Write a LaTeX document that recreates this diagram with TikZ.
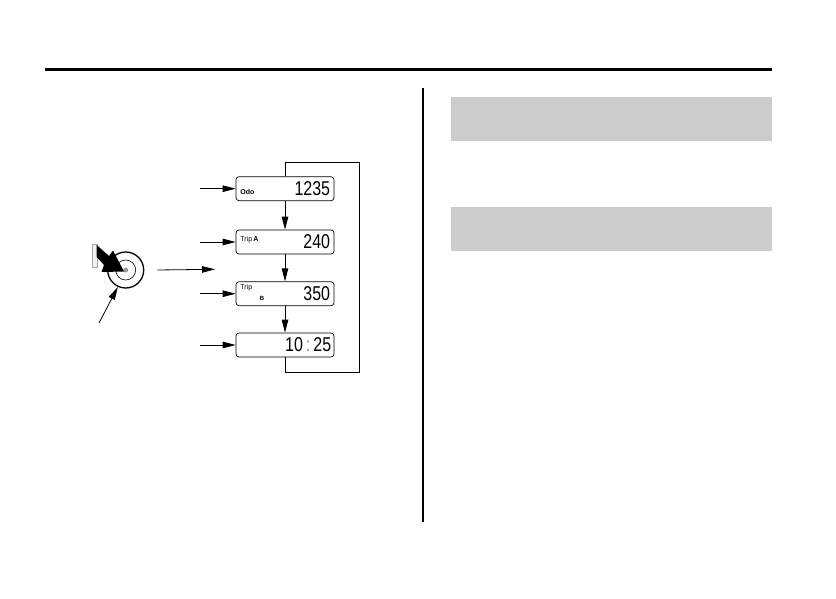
\documentclass[tikz,border=0pt]{standalone}
\usepackage{fontspec}
\setmainfont{Liberation Sans}
\newfontfamily\segfont{Liberation Sans}[FakeStretch=0.8]
\usetikzlibrary{arrows.meta}
\tikzset{
  lcd/.style={draw, rounded corners=3pt, minimum width=98pt, minimum height=24pt, line width=0.7pt},
  digits/.style={font=\segfont\fontsize{20}{20}\selectfont, inner sep=0pt, anchor=east},
  lcdtag/.style={font=\fontsize{7}{7}\selectfont\bfseries, inner sep=0pt, anchor=west},
  feed/.style={-{Triangle[length=13pt,width=6.5pt]}, line width=0.8pt},
}
\begin{document}
\begin{tikzpicture}[x=1pt,y=-1pt]
\useasboundingbox (0,0) rectangle (836,599);
% page rule, column divider, grey bands
\draw[line width=2.5pt] (45,69.5) -- (772,69.5);
\draw[line width=2pt] (423,88) -- (423,522);
\fill[black!20] (451,97) rectangle (772,141);
\fill[black!20] (451,207) rectangle (772,251);

% display screens
\node[lcd] (odo) at (285,188.7) {};
\node[lcd] (tripa) at (285,242) {};
\node[lcd] (tripb) at (285,293.7) {};
\node[lcd] (clock) at (285,345) {};

\node[digits] (odonum) at ([xshift=-4pt]odo.east) {1235};
\node[digits] (tripanum) at ([xshift=-4pt]tripa.east) {240};
\node[digits] (tripbnum) at ([xshift=-4pt]tripb.east) {350};
\node[digits] (clocknum) at ([xshift=-3pt]clock.east) {10\hspace{3pt}{\color{black!45}:}\hspace{3pt}25};

\node[lcdtag] (odotag) at ([xshift=4.5pt,yshift=-3pt]odo.west) {Odo};
\node[lcdtag, font=\fontsize{7}{7}\selectfont] (tripatag) at ([xshift=4.5pt,yshift=2.5pt]tripa.west) {Trip\,\textbf{A}};
\node[lcdtag, font=\fontsize{7}{7}\selectfont] (tripbtag) at ([xshift=4.5pt,yshift=6pt]tripb.west) {Trip};
\node[lcdtag, font=\fontsize{6}{6}\selectfont\bfseries] (tripbsub) at ([xshift=24pt,yshift=-4.5pt]tripb.west) {B};

% cycle
\draw[feed] (odo.south) -- (tripa.north);
\draw[feed] (tripa.south) -- (tripb.north);
\draw[feed] (tripb.south) -- (clock.north);
\coordinate (loopne) at (359,162.3);
\coordinate (loopse) at (359,372.7);
\draw[line width=0.8pt] (odo.north) |- (loopne) -- (loopse) -| (clock.south);

\foreach \s in {odo,tripa,tripb,clock} {
  \coordinate (\s-in) at ([xshift=-35.7pt]\s.west);
  \draw[feed] (\s-in) -- (\s.west);
}

% button
\node[circle, draw, line width=1.3pt, minimum size=36pt, inner sep=0pt] (btn) at (125.7,270) {};
\draw[line width=0.6pt] (btn.center) circle[radius=10pt];
\fill[black!40] (btn.center) circle[radius=2.5pt];
\draw[black!35, fill=black!6] (92,244) rectangle (97,267);
\fill (96.7,245) -- (109,256) -- (113,250.5) -- (124,271.5) -- (101.5,272) -- (104,265) -- (96.7,257) -- cycle;

\coordinate (btnarr) at (215,269.3);
\draw[feed] ([xshift=13pt]btn.east) -- (btnarr);
\coordinate (ptrtail) at (99,323);
\draw[feed] (ptrtail) -- (btn.245);
\end{tikzpicture}
\end{document}
